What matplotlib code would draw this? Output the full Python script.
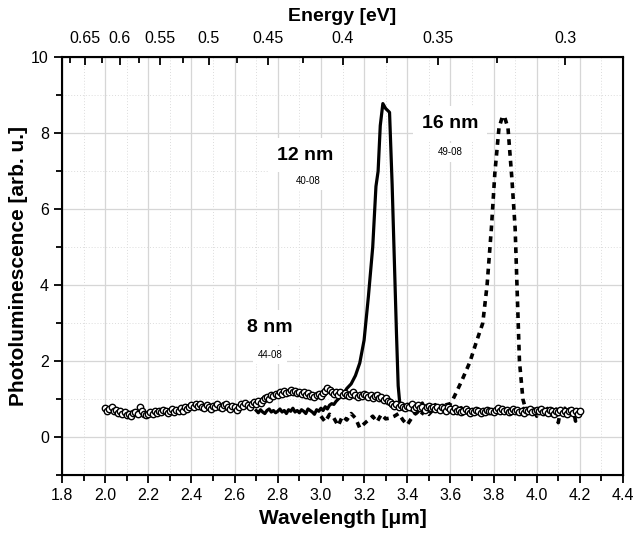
import numpy as np
import matplotlib.pyplot as plt
from matplotlib.ticker import MultipleLocator, FixedLocator, FixedFormatter

plt.rcParams['font.family'] = ['Liberation Sans', 'DejaVu Sans']

# 8 nm (44-08): open circles, 2.00 .. 4.20 um, step 0.01
pl_8nm = [
    0.76, 0.70, 0.74, 0.78, 0.68, 0.72, 0.64, 0.70, 0.62, 0.66,
    0.58, 0.62, 0.56, 0.64, 0.66, 0.60, 0.78, 0.70, 0.62, 0.58,
    0.62, 0.66, 0.60, 0.68, 0.64, 0.70, 0.66, 0.72, 0.68, 0.64,
    0.70, 0.74, 0.66, 0.72, 0.68, 0.76, 0.70, 0.78, 0.74, 0.80,
    0.84, 0.78, 0.88, 0.82, 0.86, 0.80, 0.76, 0.84, 0.80, 0.74,
    0.82, 0.78, 0.86, 0.80, 0.76, 0.84, 0.88, 0.80, 0.74, 0.82,
    0.78, 0.72, 0.80, 0.86, 0.82, 0.90, 0.84, 0.80, 0.88, 0.92,
    0.86, 0.94, 0.90, 0.98, 1.02, 1.06, 1.00, 1.10, 1.08, 1.14,
    1.12, 1.18, 1.14, 1.22, 1.16, 1.20, 1.24, 1.18, 1.22, 1.16,
    1.20, 1.14, 1.18, 1.12, 1.16, 1.08, 1.12, 1.06, 1.10, 1.14,
    1.08, 1.16, 1.22, 1.30, 1.24, 1.18, 1.14, 1.20, 1.12, 1.18,
    1.10, 1.16, 1.12, 1.08, 1.14, 1.18, 1.10, 1.06, 1.12, 1.08,
    1.14, 1.10, 1.06, 1.12, 1.04, 1.08, 1.10, 1.02, 1.06, 0.98,
    1.02, 0.96, 0.92, 0.88, 0.82, 0.86, 0.78, 0.84, 0.80, 0.76,
    0.82, 0.78, 0.86, 0.74, 0.80, 0.84, 0.76, 0.80, 0.72, 0.78,
    0.82, 0.76, 0.80, 0.74, 0.78, 0.72, 0.80, 0.76, 0.70, 0.78,
    0.74, 0.70, 0.76, 0.68, 0.72, 0.66, 0.70, 0.74, 0.68, 0.64,
    0.70, 0.66, 0.72, 0.68, 0.64, 0.70, 0.66, 0.72, 0.68, 0.70,
    0.66, 0.72, 0.76, 0.70, 0.74, 0.68, 0.72, 0.66, 0.70, 0.74,
    0.68, 0.72, 0.66, 0.70, 0.64, 0.72, 0.68, 0.74, 0.66, 0.70,
    0.72, 0.68, 0.74, 0.66, 0.70, 0.64, 0.72, 0.68, 0.62, 0.70,
    0.66, 0.72, 0.64, 0.70, 0.60, 0.68, 0.72, 0.64, 0.70, 0.62,
    0.68,
]
wl_8nm = 2.0 + 0.01 * np.arange(len(pl_8nm))

# 12 nm (40-08): solid line -- baseline before the peak (2.70 .. 3.07, step 0.01)
pl_12nm_pre = [
    0.70, 0.64, 0.72, 0.66, 0.62, 0.70, 0.74, 0.66, 0.70, 0.64,
    0.68, 0.74, 0.66, 0.70, 0.62, 0.72, 0.68, 0.76, 0.66, 0.70,
    0.64, 0.72, 0.68, 0.62, 0.74, 0.70, 0.66, 0.60, 0.72, 0.68,
    0.76, 0.70, 0.80, 0.74, 0.84, 0.88, 0.86, 0.94,
]
# peak
wl_12nm_peak = [3.08, 3.10, 3.12, 3.14, 3.16, 3.18, 3.20, 3.22, 3.24, 3.255,
                3.265, 3.275, 3.287, 3.30, 3.318, 3.33, 3.34, 3.35, 3.358, 3.366]
pl_12nm_peak = [1.00, 1.10, 1.28, 1.40, 1.62, 1.95, 2.55, 3.70, 5.00, 6.60,
                7.00, 8.20, 8.78, 8.65, 8.55, 6.65, 4.70, 2.75, 1.35, 0.85]
# baseline after the peak (3.38 .. 4.20, step 0.01)
pl_12nm_post = [
    0.80, 0.72, 0.86, 0.78, 0.70, 0.84, 0.76, 0.66, 0.82, 0.90,
    0.78, 0.72, 0.84, 0.80, 0.74, 0.86, 0.78, 0.70, 0.82, 0.76,
    0.80, 0.74, 0.78, 0.72, 0.76, 0.70, 0.74, 0.78, 0.72, 0.68,
    0.74, 0.70, 0.66, 0.72, 0.68, 0.74, 0.70, 0.66, 0.72, 0.68,
    0.72, 0.68, 0.64, 0.70, 0.74, 0.68, 0.72, 0.66, 0.70, 0.64,
    0.70, 0.74, 0.68, 0.72, 0.66, 0.70, 0.76, 0.68, 0.64, 0.72,
    0.68, 0.74, 0.70, 0.66, 0.72, 0.64, 0.70, 0.76, 0.68, 0.62,
    0.70, 0.74, 0.66, 0.72, 0.62, 0.70, 0.66, 0.74, 0.64, 0.70,
    0.58, 0.66, 0.62,
]
wl_12nm = np.concatenate([2.70 + 0.01 * np.arange(len(pl_12nm_pre)), wl_12nm_peak,
                          3.38 + 0.01 * np.arange(len(pl_12nm_post))])
pl_12nm = np.concatenate([pl_12nm_pre, pl_12nm_peak, pl_12nm_post])

# 16 nm (49-08): dotted line
wl_16nm_main = [
    3.00, 3.02, 3.04, 3.06, 3.08, 3.10, 3.12, 3.14, 3.16, 3.18,
    3.20, 3.22, 3.24, 3.26, 3.28, 3.30, 3.32, 3.34, 3.36, 3.38,
    3.40, 3.42, 3.44, 3.46, 3.48, 3.50, 3.52, 3.54, 3.56, 3.58,
    3.60, 3.61, 3.65, 3.69, 3.72, 3.75, 3.77, 3.79, 3.806, 3.825,
    3.84, 3.85, 3.867, 3.885, 3.90, 3.91, 3.92, 3.936, 3.95,
]
pl_16nm_main = [
    0.55, 0.40, 0.60, 0.50, 0.30, 0.55, 0.45, 0.62, 0.50, 0.24,
    0.35, 0.45, 0.55, 0.40, 0.60, 0.48, 0.50, 0.55, 0.62, 0.45,
    0.32, 0.50, 0.65, 0.55, 0.70, 0.60, 0.72, 0.80, 0.75, 0.85,
    0.88, 0.97, 1.45, 1.97, 2.50, 3.00, 4.00, 5.50, 6.95, 8.13,
    8.42, 8.45, 8.13, 6.80, 5.50, 3.74, 2.00, 1.00, 0.70,
]
# tail 3.96 .. 4.20, step 0.01
pl_16nm_tail = [
    0.75, 0.62, 0.80, 0.70, 0.55, 0.72, 0.66, 0.78, 0.60, 0.70,
    0.48, 0.74, 0.66, 0.58, 0.38, 0.70, 0.64, 0.76, 0.50, 0.68,
    0.60, 0.72, 0.42, 0.66, 0.55,
]
wl_16nm = np.concatenate([wl_16nm_main, 3.96 + 0.01 * np.arange(len(pl_16nm_tail))])
pl_16nm = np.concatenate([pl_16nm_main, pl_16nm_tail])

energy_ticks = [0.65, 0.6, 0.55, 0.5, 0.45, 0.4, 0.35, 0.3]
energy_labels = ['0.65', '0.6', '0.55', '0.5', '0.45', '0.4', '0.35', '0.3']
energy_minor = [0.675, 0.625, 0.575, 0.525, 0.475, 0.425, 0.375, 0.325]

fig = plt.figure(figsize=(6.39, 5.35), dpi=100)
ax = fig.add_axes([0.097, 0.112, 0.878, 0.781])

ax.plot(wl_12nm, pl_12nm, color='black', lw=2.3, zorder=3)
ax.plot(wl_16nm, pl_16nm, color='black', lw=2.6, ls=(0, (1.6, 1.4)), zorder=3)
ax.plot(wl_8nm, pl_8nm, ls='none', marker='o', ms=4.6, mfc='white', mec='black', mew=1.0, zorder=4)

ax.set_xlim(1.8, 4.4)
ax.set_ylim(-1, 10)
ax.xaxis.set_major_locator(MultipleLocator(0.2))
ax.xaxis.set_minor_locator(MultipleLocator(0.1))
ax.yaxis.set_major_locator(MultipleLocator(2))
ax.yaxis.set_minor_locator(MultipleLocator(1))
ax.xaxis.set_major_formatter(plt.FuncFormatter(lambda v, p: f'{v:.1f}'))
ax.tick_params(which='both', direction='out', top=False, right=False, labelsize=11.5, width=1.3)
ax.tick_params(which='major', length=6)
ax.tick_params(which='minor', length=4)
ax.grid(which='major', color='#d6d6d6', lw=0.9, zorder=0)
ax.grid(which='minor', color='#dcdcdc', lw=0.7, ls=(0, (1, 2)), zorder=0)
for s in ax.spines.values():
    s.set_linewidth(1.5)

ax.set_xlabel('Wavelength [\u03bcm]', fontsize=15, fontweight='bold', labelpad=4)
ax.set_ylabel('Photoluminescence [arb. u.]', fontsize=15, fontweight='bold', labelpad=2)

top = ax.twiny()
top.set_xlim(ax.get_xlim())
top.xaxis.set_major_locator(FixedLocator([1.24 / e for e in energy_ticks]))
top.xaxis.set_major_formatter(FixedFormatter(energy_labels))
top.xaxis.set_minor_locator(FixedLocator([1.24 / e for e in energy_minor]))
top.tick_params(which='both', direction='in', labelsize=11.5, width=1.3, pad=8)
top.tick_params(which='major', length=6)
top.tick_params(which='minor', length=4)
top.set_xlabel('Energy [eV]', fontsize=14, fontweight='bold', labelpad=7)

box = dict(boxstyle='square,pad=0.45', fc='white', ec='none')
ax.text(2.926, 7.42, '12 nm', fontsize=14, fontweight='bold', ha='center', va='center', bbox=box, zorder=5)
ax.text(2.94, 6.74, '40-08', fontsize=7, ha='center', va='center', bbox=box, zorder=5)
ax.text(3.598, 8.26, '16 nm', fontsize=14, fontweight='bold', ha='center', va='center', bbox=box, zorder=5)
ax.text(3.598, 7.50, '49-08', fontsize=7, ha='center', va='center', bbox=box, zorder=5)
ax.text(2.764, 2.89, '8 nm', fontsize=14, fontweight='bold', ha='center', va='center', bbox=box, zorder=5)
ax.text(2.764, 2.16, '44-08', fontsize=7, ha='center', va='center', bbox=box, zorder=5)

fig.savefig('out.png', dpi=100)
